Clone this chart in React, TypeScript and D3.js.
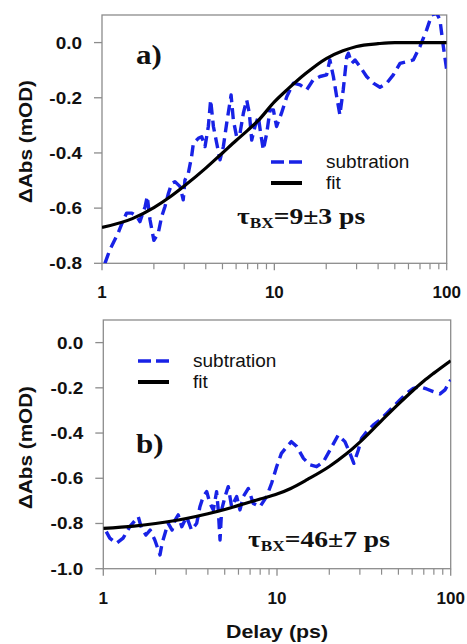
import React from 'react';
import * as d3 from 'd3';

// ---------- data ----------
const xMajorTicks = [1, 10, 100];
const xMinorTicks = [2, 3, 4, 5, 6, 7, 8, 9, 20, 30, 40, 50, 60, 70, 80, 90];
const yTicksA = [-0.8, -0.6, -0.4, -0.2, 0.0];
const yTicksB = [-1.0, -0.8, -0.6, -0.4, -0.2, 0.0];

const subA_t = [1.04, 1.11, 1.24, 1.33, 1.39, 1.49, 1.59, 1.66, 1.78, 1.83, 1.9, 2.0, 2.12, 2.22, 2.32, 2.43, 2.54, 2.65, 2.84, 2.96, 3.03, 3.17, 3.31, 3.39, 3.62, 3.79, 3.96, 4.14, 4.27, 4.43, 4.63, 4.84, 5.06, 5.29, 5.61, 5.78, 6.04, 6.32, 6.61, 6.91, 7.16, 7.39, 7.72, 8.07, 8.33, 8.63, 9.03, 9.44, 9.87, 10.3, 11.0, 11.8, 12.9, 14.1, 15.4, 16.8, 18.4, 20.1, 21.0, 22.0, 23.0, 24.0, 25.1, 26.3, 26.9, 28.1, 29.4, 31.4, 34.3, 37.5, 41.0, 44.9, 49.0, 53.6, 58.6, 64.0, 70.0, 76.5, 81.8, 87.5, 91.4, 95.6, 100];
const subA_v = [-0.8, -0.751, -0.691, -0.643, -0.618, -0.618, -0.63, -0.649, -0.594, -0.558, -0.643, -0.717, -0.691, -0.63, -0.594, -0.546, -0.51, -0.504, -0.522, -0.57, -0.498, -0.473, -0.413, -0.365, -0.347, -0.341, -0.377, -0.304, -0.208, -0.304, -0.365, -0.425, -0.377, -0.292, -0.19, -0.28, -0.341, -0.329, -0.256, -0.208, -0.256, -0.353, -0.304, -0.268, -0.329, -0.389, -0.329, -0.244, -0.244, -0.304, -0.256, -0.196, -0.147, -0.153, -0.171, -0.135, -0.123, -0.117, -0.063, -0.123, -0.196, -0.262, -0.171, -0.051, -0.039, -0.075, -0.063, -0.087, -0.123, -0.147, -0.162, -0.147, -0.117, -0.075, -0.069, -0.063, -0.014, 0.046, 0.1, 0.106, 0.082, -0.014, -0.099];

const fitA_t = [1, 1.5, 2, 2.5, 3, 4, 5, 6, 7, 8, 10, 12, 15, 20, 25, 30, 40, 50, 70, 100];
const fitA_v = [-0.67, -0.638, -0.598, -0.558, -0.52, -0.455, -0.4, -0.355, -0.318, -0.285, -0.215, -0.168, -0.115, -0.058, -0.03, -0.014, -0.004, 0, 0, 0];

const subB_t = [1.04, 1.09, 1.19, 1.3, 1.42, 1.59, 1.66, 1.76, 1.86, 1.98, 2.12, 2.18, 2.27, 2.36, 2.49, 2.59, 2.7, 2.83, 3.02, 3.22, 3.45, 3.6, 3.76, 3.94, 4.11, 4.3, 4.49, 4.59, 4.7, 4.8, 5.02, 5.24, 5.48, 5.86, 6.12, 6.4, 6.84, 7.3, 7.98, 8.71, 9.31, 9.95, 10.6, 11.4, 12.1, 13.0, 14.2, 15.5, 16.9, 18.5, 20.2, 22.5, 24.6, 26.3, 27.7, 29.4, 30.7, 32.8, 35.9, 39.2, 42.8, 46.7, 51.0, 55.8, 60.9, 66.5, 72.7, 79.4, 86.8, 92.7, 100];
const subB_v = [-0.836, -0.865, -0.888, -0.865, -0.814, -0.77, -0.821, -0.851, -0.829, -0.873, -0.939, -0.888, -0.842, -0.798, -0.829, -0.785, -0.762, -0.814, -0.77, -0.829, -0.799, -0.726, -0.681, -0.659, -0.711, -0.74, -0.659, -0.74, -0.873, -0.74, -0.681, -0.637, -0.726, -0.681, -0.74, -0.681, -0.645, -0.711, -0.726, -0.681, -0.622, -0.549, -0.49, -0.46, -0.438, -0.46, -0.512, -0.541, -0.549, -0.527, -0.475, -0.409, -0.438, -0.49, -0.534, -0.475, -0.423, -0.394, -0.364, -0.342, -0.313, -0.283, -0.254, -0.224, -0.202, -0.195, -0.205, -0.217, -0.227, -0.209, -0.165];

const fitB_t = [1, 1.5, 2, 3, 4, 5, 6, 7, 8, 10, 12, 15, 20, 25, 30, 40, 50, 60, 70, 80, 100];
const fitB_v = [-0.822, -0.812, -0.8, -0.778, -0.757, -0.738, -0.72, -0.705, -0.692, -0.67, -0.645, -0.605, -0.548, -0.493, -0.44, -0.345, -0.272, -0.215, -0.17, -0.135, -0.08];

const legendLabels = ['subtration', 'fit'];
const xTitle = 'Delay (ps)';
const yTitle = 'ΔAbs (mOD)';

// ---------- style ----------
const SANS = '"Liberation Sans", Arial, Helvetica, sans-serif';
const SERIF = '"Liberation Serif", "Times New Roman", serif';
const BLUE = '#1822e6';
const AXIS = '#8c8c8c';

type PanelProps = {
  id: string;
  xr: [number, number];
  yr: [number, number];
  yDomain: [number, number];
  yTicks: number[];
  subT: number[];
  subV: number[];
  fitT: number[];
  fitV: number[];
  legendX: number;
  legendY: number;
  tag: string;
  tagPos: [number, number];
  tauVal: string;
  tauPos: [number, number];
  yLabelY: number;
  showXTitle: boolean;
};

function Panel(p: PanelProps) {
  const x = d3.scaleLog().domain([1, 100]).range(p.xr);
  const y = d3.scaleLinear().domain(p.yDomain).range(p.yr);
  const [x0, x1] = p.xr;
  const [yb, yt] = p.yr;
  const sub = p.subT.map((t, i) => [t, p.subV[i]] as [number, number]);
  const fit = p.fitT.map((t, i) => [t, p.fitV[i]] as [number, number]);
  const subLine = d3.line<[number, number]>().x(d => x(d[0])).y(d => y(d[1]));
  const fitLine = d3.line<[number, number]>().x(d => x(d[0])).y(d => y(d[1])).curve(d3.curveMonotoneX);
  const clipId = `clip-${p.id}`;
  return (
    <g>
      <defs>
        <clipPath id={clipId}>
          <rect x={x0} y={yt} width={x1 - x0} height={yb - yt} />
        </clipPath>
      </defs>
      {/* frame */}
      <rect x={x0} y={yt} width={x1 - x0} height={yb - yt} fill="none" stroke={AXIS} strokeWidth={1.3} />
      {/* y ticks */}
      {p.yTicks.map(v => (
        <g key={`y${v}`}>
          <line x1={x0 - 8} x2={x0} y1={y(v)} y2={y(v)} stroke={AXIS} strokeWidth={1.3} />
          <g transform={`translate(${x0 - 20},${y(v)}) scale(1.15,1)`}>
            <text x={0} y={0} dy="0.36em" textAnchor="end" fontFamily={SANS} fontWeight="bold" fontSize={16.5} fill="#111">
              {v.toFixed(1)}
            </text>
          </g>
        </g>
      ))}
      {/* x ticks */}
      {xMajorTicks.map(v => (
        <g key={`xm${v}`}>
          <line x1={x(v)} x2={x(v)} y1={yb} y2={yb + 7} stroke={AXIS} strokeWidth={1.3} />
          <text x={x(v)} y={yb + 35} textAnchor="middle" fontFamily={SANS} fontWeight="bold" fontSize={17} fill="#111">
            {String(v)}
          </text>
        </g>
      ))}
      {xMinorTicks.map(v => (
        <line key={`xn${v}`} x1={x(v)} x2={x(v)} y1={yb} y2={yb + 6} stroke={AXIS} strokeWidth={1.2} />
      ))}
      {/* data */}
      <g clipPath={`url(#${clipId})`}>
        <path d={subLine(sub) || ''} fill="none" stroke={BLUE} strokeWidth={3.4} strokeDasharray="11,6" strokeLinejoin="round" />
        <path d={fitLine(fit) || ''} fill="none" stroke="#000" strokeWidth={3.2} />
      </g>
      {/* legend */}
      <line x1={p.legendX} x2={p.legendX + 31} y1={p.legendY} y2={p.legendY} stroke={BLUE} strokeWidth={3.6} strokeDasharray="13,5" />
      <text x={p.legendX + 55} y={p.legendY + 6} fontFamily={SANS} fontSize={19} fill="#111">{legendLabels[0]}</text>
      <line x1={p.legendX} x2={p.legendX + 31} y1={p.legendY + 21} y2={p.legendY + 21} stroke="#000" strokeWidth={4} />
      <text x={p.legendX + 55} y={p.legendY + 27} fontFamily={SANS} fontSize={19} fill="#111">{legendLabels[1]}</text>
      {/* tag */}
      <g transform={`translate(${p.tagPos[0]},${p.tagPos[1]}) scale(1.15,1)`}>
        <text x={0} y={0} fontFamily={SERIF} fontWeight="bold" fontSize={27} fill="#111">{p.tag}</text>
      </g>
      {/* tau */}
      <g transform={`translate(${p.tauPos[0]},${p.tauPos[1]}) scale(1.15,1)`}>
        <text x={0} y={0} fontFamily={SERIF} fontWeight="bold" fontSize={24} fill="#111">
          τ<tspan fontSize={15} dy={4}>BX</tspan><tspan dy={-4}>{`=${p.tauVal} ps`}</tspan>
        </text>
      </g>
      {/* y title */}
      <text
        transform={`translate(32,${p.yLabelY}) rotate(-90)`}
        textAnchor="middle"
        fontFamily={SANS}
        fontWeight="bold"
        fontSize={18}
        textLength={123}
        lengthAdjust="spacingAndGlyphs"
        fill="#111"
      >
        {yTitle}
      </text>
      {p.showXTitle && (
        <text x={(x0 + x1) / 2} y={638} textAnchor="middle" fontFamily={SANS} fontWeight="bold" fontSize={19} textLength={102} lengthAdjust="spacingAndGlyphs" fill="#111">
          {xTitle}
        </text>
      )}
    </g>
  );
}

export default function App() {
  return (
    <svg width={467} height={644} style={{ position: 'absolute', left: 0, top: 0, background: '#fff' }}>
      <rect x={0} y={0} width={467} height={644} fill="#fff" />
      <Panel
        id="a"
        xr={[102, 446.7]}
        yr={[263.3, 15]}
        yDomain={[-0.8, 0.1]}
        yTicks={yTicksA}
        subT={subA_t}
        subV={subA_v}
        fitT={fitA_t}
        fitV={fitA_v}
        legendX={271}
        legendY={162}
        tag="a)"
        tagPos={[136, 64]}
        tauVal="9±3"
        tauPos={[237, 224]}
        yLabelY={141.5}
        showXTitle={false}
      />
      <Panel
        id="b"
        xr={[103.3, 450.7]}
        yr={[568.7, 320]}
        yDomain={[-1.0, 0.1]}
        yTicks={yTicksB}
        subT={subB_t}
        subV={subB_v}
        fitT={fitB_t}
        fitV={fitB_v}
        legendX={138}
        legendY={361}
        tag="b)"
        tagPos={[136, 453]}
        tauVal="46±7"
        tauPos={[248, 547]}
        yLabelY={447.5}
        showXTitle={true}
      />
    </svg>
  );
}
